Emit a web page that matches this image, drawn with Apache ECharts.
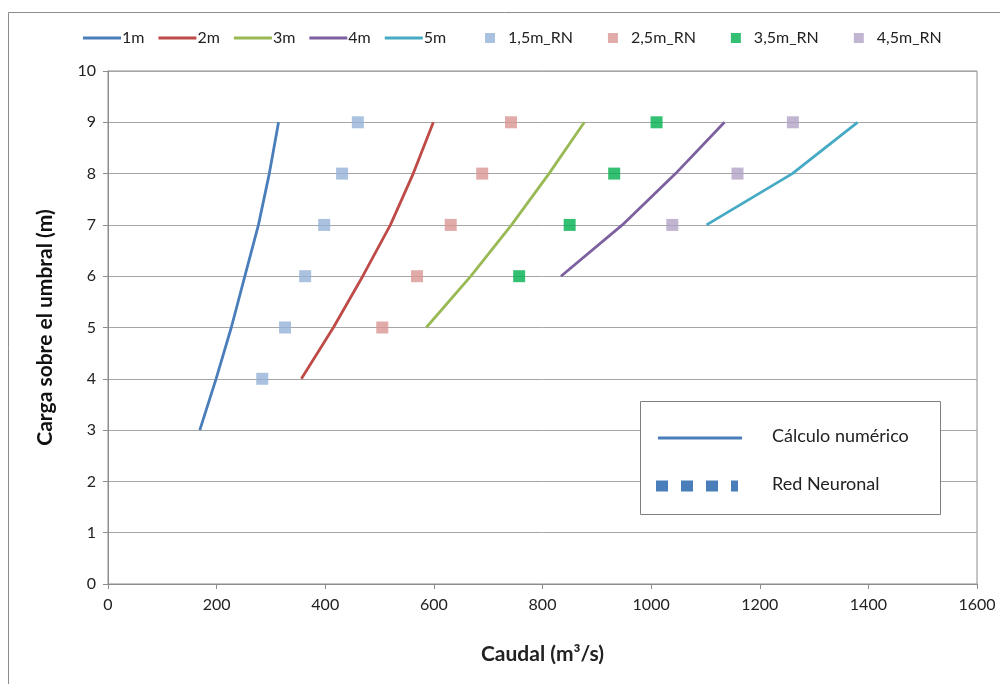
<!DOCTYPE html>
<html>
<head>
<meta charset="utf-8">
<script src="https://cdn.jsdelivr.net/npm/echarts@6/dist/echarts.min.js"></script>
<style>html,body{margin:0;padding:0;background:#fff}#c{width:1000px;height:684px}</style>
</head>
<body>
<div id="c"></div>
<script>
// Numerical calculation curves: head (m) and discharge (m3/s)
const h1m = [3, 4, 5, 6, 7, 8, 9];
const q1m = [169, 199, 227, 252, 277, 297, 314];
const h2m = [4, 5, 6, 7, 8, 9];
const q2m = [356, 415, 469, 520, 562, 599];
const h3m = [5, 6, 7, 8, 9];
const q3m = [586, 668, 743, 812, 877];
const h4m = [6, 7, 8, 9];
const q4m = [834, 947, 1045, 1135];
const h5m = [7, 8, 9];
const q5m = [1102, 1260, 1380];
// Neural network points
const h15 = [4, 5, 6, 7, 8, 9];
const q15 = [284, 326, 363, 398, 431, 460];
const h25 = [5, 6, 7, 8, 9];
const q25 = [505, 569, 631, 689, 742];
const h35 = [6, 7, 8, 9];
const q35 = [757, 850, 932, 1010];
const h45 = [7, 8, 9];
const q45 = [1039, 1159, 1261];

const xTicks = [0, 200, 400, 600, 800, 1000, 1200, 1400, 1600];
const yTicks = [0, 1, 2, 3, 4, 5, 6, 7, 8, 9, 10];

const lineNames = ['1m', '2m', '3m', '4m', '5m'];
const pointNames = ['1,5m_RN', '2,5m_RN', '3,5m_RN', '4,5m_RN'];
const lineColors = ['#4A7EBB', '#BE4B48', '#98B954', '#7D60A0', '#46AAC5'];
const pointColors = ['#95B3D7', '#D99694', '#00B050', '#B3A2C7'];

const zip = (q, h) => q.map((v, i) => [v, h[i]]);
const lineData = [zip(q1m, h1m), zip(q2m, h2m), zip(q3m, h3m), zip(q4m, h4m), zip(q5m, h5m)];
const pointData = [zip(q15, h15), zip(q25, h25), zip(q35, h35), zip(q45, h45)];

const FONT = 'Lato';
const series = [];
lineNames.forEach((n, i) => series.push({
  name: n, type: 'line', data: lineData[i], symbol: 'none',
  lineStyle: { color: lineColors[i], width: 2.8 }, itemStyle: { color: lineColors[i] },
  animation: false, z: 3
}));
pointNames.forEach((n, i) => series.push({
  name: n, type: 'scatter', data: pointData[i], symbol: 'rect', symbolSize: 12,
  itemStyle: { color: pointColors[i] }, animation: false, z: 4
}));

const chart = echarts.init(document.getElementById('c'), null, { renderer: 'canvas' });
chart.setOption({
  backgroundColor: '#fff',
  animation: false,
  grid: { left: 108, right: 23, top: 71, bottom: 100, show: true, borderColor: '#8c8c8c', borderWidth: 1 },
  legend: [{
    data: lineNames, left: 78, top: 25, itemWidth: 38, itemHeight: 3, itemGap: 14,
    icon: 'rect',
    textStyle: { fontFamily: FONT, fontSize: 16, color: '#222', padding: [0, 0, 0, -4] }
  }, {
    data: pointNames, left: 480, top: 25, itemWidth: 10, itemHeight: 10, itemGap: 35,
    icon: 'rect',
    textStyle: { fontFamily: FONT, fontSize: 16, color: '#222', padding: [0, 0, 0, 8] }
  }],
  xAxis: {
    type: 'value', min: 0, max: 1600, interval: 200,
    name: 'Caudal (m³/s)', nameLocation: 'middle', nameGap: 60,
    nameTextStyle: { fontFamily: FONT, fontWeight: 'bold', fontSize: 21, color: '#222' },
    axisLine: { show: true, lineStyle: { color: '#8c8c8c' } },
    axisTick: { show: true, length: 5, lineStyle: { color: '#8c8c8c' } },
    axisLabel: { fontFamily: FONT, fontSize: 16, color: '#222', margin: 13,
      formatter: v => xTicks.includes(v) ? String(v) : '' },
    splitLine: { show: false }
  },
  yAxis: {
    type: 'value', min: 0, max: 10, interval: 1,
    name: 'Carga sobre el umbral (m)', nameLocation: 'middle', nameGap: 52, nameRotate: 90,
    nameTextStyle: { fontFamily: FONT, fontWeight: 'bold', fontSize: 21, color: '#111' },
    axisLine: { show: true, lineStyle: { color: '#8c8c8c' } },
    axisTick: { show: true, length: 5, lineStyle: { color: '#8c8c8c' } },
    axisLabel: { fontFamily: FONT, fontSize: 16, color: '#222', margin: 12,
      formatter: v => yTicks.includes(v) ? String(v) : '' },
    splitLine: { show: true, lineStyle: { color: '#a6a6a6', width: 1 } }
  },
  graphic: [
    { type: 'rect', shape: { x: 8.5, y: 12.5, width: 1010, height: 700 }, style: { fill: 'none', stroke: '#8c8c8c', lineWidth: 1 }, silent: true, z: 0 },
    { type: 'rect', shape: { x: 640.5, y: 401.5, width: 300, height: 113 }, style: { fill: '#fff', stroke: '#7f7f7f', lineWidth: 1 }, z: 10 },
    { type: 'line', shape: { x1: 658, y1: 438, x2: 742, y2: 438 }, style: { stroke: '#4A7EBB', lineWidth: 3 }, z: 11 },
    { type: 'line', shape: { x1: 656, y1: 486, x2: 738, y2: 486 }, style: { stroke: '#4A7EBB', lineWidth: 11, lineDash: [12, 13] }, z: 11 },
    { type: 'text', left: 772, top: 427, style: { text: 'Cálculo numérico', font: '18px Lato', fill: '#222' }, z: 11 },
    { type: 'text', left: 772, top: 475, style: { text: 'Red Neuronal', font: '18px Lato', fill: '#222' }, z: 11 }
  ],
  series: series
});
</script>
</body>
</html>
